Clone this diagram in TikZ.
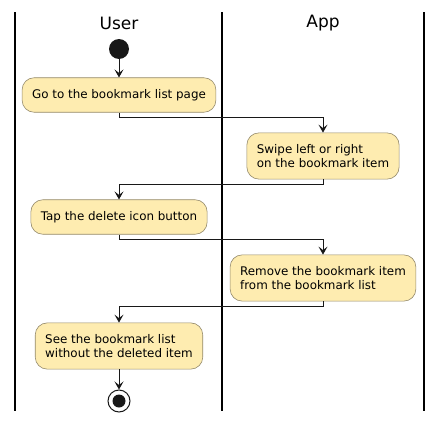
\documentclass[tikz,border=0pt]{standalone}
\usepackage{fontspec}
\setmainfont{DejaVu Sans}
\usetikzlibrary{arrows.meta,positioning}
\definecolor{actfill}{HTML}{FEECB0}
\definecolor{actborder}{HTML}{948A6C}
\definecolor{flowcol}{HTML}{181818}
\tikzset{
  every picture/.style = {
    >={Stealth[length=8pt,width=9pt,inset=3.5pt]},
    x = 1pt,
    y = -1pt
  }
  ,
  action/.style = {
    rectangle,
    rounded corners = 12pt,
    draw = actborder,
    fill = actfill,
    line width = 0.6pt,
    align = left,
    font = \fontsize{11.9}{14}\selectfont,
    inner xsep = 10pt,
    inner ysep = 11.5pt
  }
  , % swimlane titles
  label-lane/.style = {
    font = \fontsize{17}{20}\selectfont
  }
  , % swimlane borders
  lane/.style = {
    line width = 1.2pt
  }
  , % arrows between actions
  flow/.style = {
    ->,
    line width = 0.9pt,
    color = flowcol
  }
}
\begin{document}
\begin{tikzpicture}
    \useasboundingbox (0,0) rectangle (442,423);
    \foreach \x in {15,222,424}
        \draw [lane] (\x,12) -- (\x,411);
    \node [label-lane] (user) at (119,23) {User};
    \node [label-lane] (app) at (323,23) {App};
    \node [circle, fill=flowcol, minimum size=20pt, inner sep=0pt] (start) at (119,49) {};
    \node [action] (goto) at (119,95) {Go to the bookmark list page};
    \node [action] (swipe) at (323,156) {Swipe left or right\\on the bookmark item};
    \node [action] (tap) at (119,217) {Tap the delete icon button};
    \node [action] (remove) at (323,278) {Remove the bookmark item\\from the bookmark list};
    \node [action] (see) at (119,346) {See the bookmark list\\without the deleted item};
    \node [circle, draw=flowcol, line width=1pt, minimum size=22pt, inner sep=0pt] (stop) at (119,401) {};
    \node [circle, fill=flowcol, minimum size=13pt, inner sep=0pt] at (stop) {};
    \draw [flow] (start) -- (goto);
    \draw [flow] (goto.south) -- ++(0,5) -| (swipe.north);
    \draw [flow] (swipe.south) -- ++(0,5) -| (tap.north);
    \draw [flow] (tap.south) -- ++(0,5) -| (remove.north);
    \draw [flow] (remove.south) -- ++(0,5) -| (see.north);
    \draw [flow] (see) -- (stop);
\end{tikzpicture}
\end{document}
